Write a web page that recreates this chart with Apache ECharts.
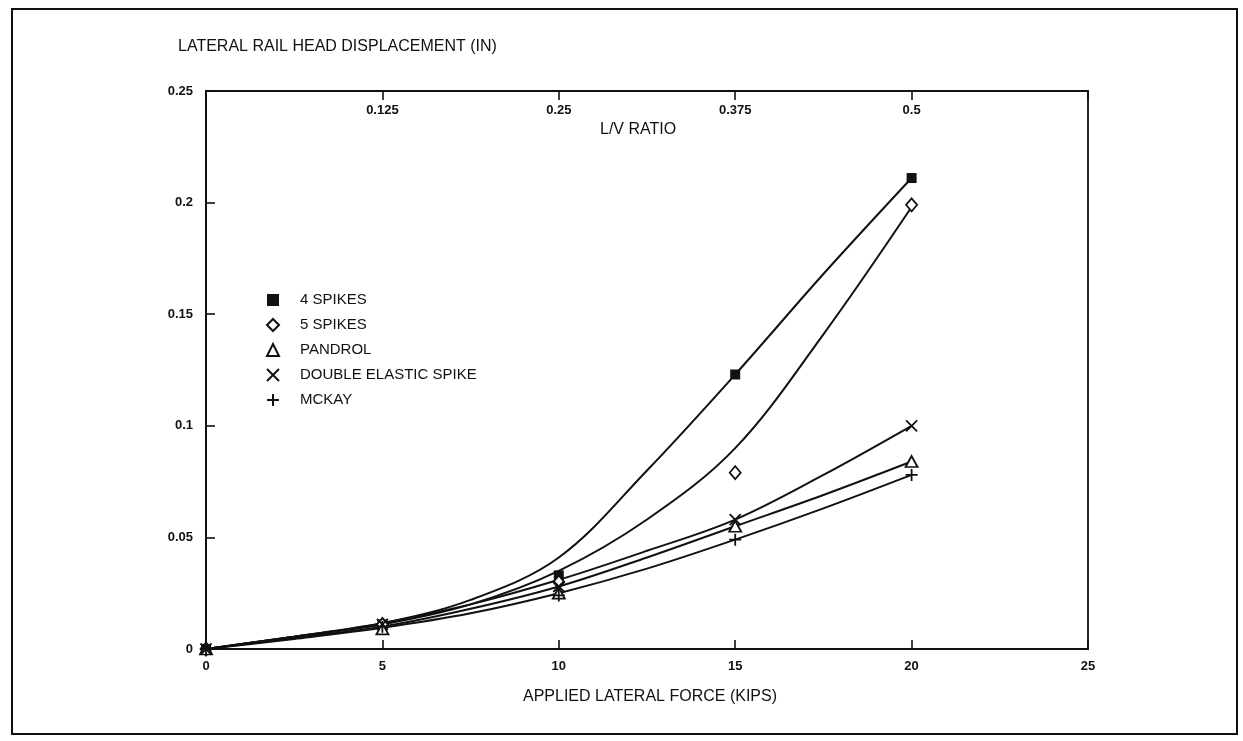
<!DOCTYPE html>
<html>
<head>
<meta charset="utf-8">
<script src="https://cdn.jsdelivr.net/npm/echarts@6/dist/echarts.min.js"></script>
<style>
  html, body { margin: 0; padding: 0; background: #fff; }
  #chart { width: 1243px; height: 741px; }
</style>
</head>
<body>
<div id="chart"></div>
<script>
// Measured points: lateral force (kips) vs. rail head displacement (in)
const forceKips = [0, 5, 10, 15, 20];
const spikes4 = [0, 0.011, 0.033, 0.123, 0.211];
const spikes5 = [0, 0.011, 0.030, 0.079, 0.199];
const pandrol = [0, 0.009, 0.025, 0.055, 0.084];
const doubleElastic = [0, 0.011, 0.028, 0.058, 0.100];
const mckay = [0, 0.010, 0.024, 0.049, 0.078];

// Fitted curves through each fastener's measurements
const curveForce = [0, 2.5, 5, 7.5, 10, 12.5, 15, 17.5, 20];
const fit4 = [0, 0.0055, 0.0115, 0.022, 0.041, 0.080, 0.123, 0.168, 0.211];
const fit5 = [0, 0.0055, 0.011, 0.020, 0.035, 0.058, 0.090, 0.141, 0.198];
const fitPandrol = [0, 0.005, 0.010, 0.018, 0.028, 0.041, 0.055, 0.069, 0.084];
const fitDouble = [0, 0.0055, 0.0115, 0.020, 0.031, 0.044, 0.058, 0.078, 0.100];
const fitMckay = [0, 0.0045, 0.0095, 0.016, 0.025, 0.036, 0.049, 0.063, 0.078];

// Tick values
const forceTicks = [0, 5, 10, 15, 20, 25];
const dispTicks = [0, 0.05, 0.1, 0.15, 0.2, 0.25];
const lvTicks = [0.125, 0.25, 0.375, 0.5];

const names = ['4 SPIKES', '5 SPIKES', 'PANDROL', 'DOUBLE ELASTIC SPIKE', 'MCKAY'];
const measured = [spikes4, spikes5, pandrol, doubleElastic, mckay];
const fits = [fit4, fit5, fitPandrol, fitDouble, fitMckay];

const FONT = '"Liberation Sans", Arial, Helvetica, sans-serif';
const INK = '#111';

const pair = (xs, ys) => xs.map((x, i) => [x, ys[i]]);

const markerStyles = [
  { symbol: 'rect', symbolSize: 10, itemStyle: { color: INK, borderColor: INK, borderWidth: 0, opacity: 1 } },
  { symbol: 'diamond', symbolSize: [11, 13], itemStyle: { color: '#fff', borderColor: INK, borderWidth: 1.8, opacity: 1 } },
  { symbol: 'triangle', symbolSize: [12, 11], itemStyle: { color: '#fff', borderColor: INK, borderWidth: 1.8, opacity: 1 } },
  { symbol: 'path://M0,0L10,10M10,0L0,10', symbolSize: 11, itemStyle: { color: 'rgba(0,0,0,0)', borderColor: INK, borderWidth: 1.8, opacity: 1 } },
  { symbol: 'path://M5,0L5,10M0,5L10,5', symbolSize: 12, itemStyle: { color: 'rgba(0,0,0,0)', borderColor: INK, borderWidth: 1.8, opacity: 1 } }
];

const series = [];
names.forEach((name, i) => {
  series.push({
    name: name + ' (fit)',
    type: 'line',
    data: pair(curveForce, fits[i]),
    smooth: 0.35,
    showSymbol: false,
    lineStyle: { color: INK, width: 2 },
    z: 2,
    silent: true
  });
});
names.forEach((name, i) => {
  series.push(Object.assign({
    name: name,
    type: 'scatter',
    data: pair(forceKips, measured[i]),
    z: 3
  }, markerStyles[i]));
});

const chart = echarts.init(document.getElementById('chart'), null, { renderer: 'canvas' });

const tickLabel = { color: INK, fontFamily: FONT, fontSize: 13, fontWeight: 'bold' };

chart.setOption({
  backgroundColor: '#fff',
  animation: false,
  grid: {
    left: 206, right: 155, top: 91, bottom: 92,
    show: true, borderColor: INK, borderWidth: 1.8, backgroundColor: 'transparent'
  },
  xAxis: [
    {
      type: 'value', position: 'bottom',
      min: forceTicks[0], max: forceTicks[forceTicks.length - 1], interval: 5,
      axisLine: { show: true, lineStyle: { color: INK, width: 1.8 } },
      axisTick: { show: true, inside: true, length: 9, lineStyle: { color: INK, width: 1.6 } },
      axisLabel: Object.assign({ margin: 11 }, tickLabel),
      splitLine: { show: false }
    },
    {
      type: 'value', position: 'top',
      min: 0, max: 0.625, interval: 0.125,
      axisLine: { show: true, lineStyle: { color: INK, width: 1.8 } },
      axisTick: { show: true, inside: true, length: 9, lineStyle: { color: INK, width: 1.6 } },
      axisLabel: Object.assign({
        inside: true, margin: 13,
        formatter: v => (lvTicks.some(t => Math.abs(t - v) < 1e-9) ? String(+v.toFixed(3)) : '')
      }, tickLabel),
      splitLine: { show: false }
    }
  ],
  yAxis: {
    type: 'value',
    min: dispTicks[0], max: dispTicks[dispTicks.length - 1], interval: 0.05,
    axisLine: { show: true, lineStyle: { color: INK, width: 1.8 } },
    axisTick: { show: true, inside: true, length: 9, lineStyle: { color: INK, width: 1.6 } },
    axisLabel: Object.assign({ margin: 13, formatter: v => String(+v.toFixed(2)) }, tickLabel),
    splitLine: { show: false }
  },
  legend: {
    data: names,
    orient: 'vertical',
    left: 261, top: 287,
    itemWidth: 12, itemHeight: 12, itemGap: 9,
    selectedMode: false,
    textStyle: { color: INK, fontFamily: FONT, fontSize: 15, lineHeight: 16, padding: [0, 0, 0, 16] }
  },
  graphic: [
    {
      type: 'rect', silent: true, z: -1,
      shape: { x: 12, y: 9, width: 1225, height: 725 },
      style: { fill: 'none', stroke: INK, lineWidth: 2 }
    },
    {
      type: 'text', left: 178, top: 39,
      style: { text: 'LATERAL RAIL HEAD DISPLACEMENT (IN)', fill: INK, font: '16px ' + FONT }
    },
    {
      type: 'text', left: 600, top: 122,
      style: { text: 'L/V RATIO', fill: INK, font: '16px ' + FONT }
    },
    {
      type: 'text', left: 523, top: 689,
      style: { text: 'APPLIED LATERAL FORCE (KIPS)', fill: INK, font: '16px ' + FONT }
    }
  ],
  series: series
});
</script>
</body>
</html>
